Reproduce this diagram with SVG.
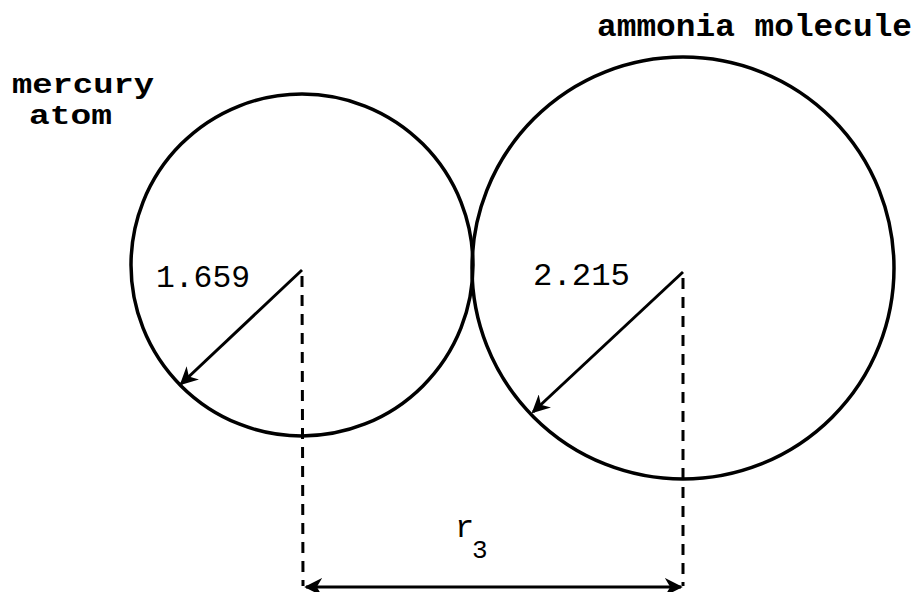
<svg xmlns="http://www.w3.org/2000/svg" width="914" height="592" viewBox="0 0 914 592">
<style>
.c{fill:none;stroke:#000;stroke-width:3.5}
.a{fill:none;stroke:#000;stroke-width:3}
.d{fill:none;stroke:#000;stroke-width:3;stroke-dasharray:11 8}
text{font-family:"Liberation Mono","Courier New",monospace;font-size:32px;fill:#000}
.b{font-weight:bold}
.s{font-size:27px}
</style>
<defs>
<marker id="ah" viewBox="0 0 10 10" refX="9" refY="5" markerWidth="6" markerHeight="6" markerUnits="strokeWidth" orient="auto-start-reverse">
<path d="M0,0 L10,5 L0,10 L3,5 Z" fill="#000"/>
</marker>
</defs>
<rect width="914" height="592" fill="#fff"/>
<g id="mercury">
<circle class="c" cx="302" cy="265" r="171"/>
<text class="b s" x="12" y="93" textLength="142" lengthAdjust="spacingAndGlyphs">mercury</text>
<text class="b s" x="29" y="124" textLength="83" lengthAdjust="spacingAndGlyphs">atom</text>
<text x="156" y="287" textLength="94" lengthAdjust="spacingAndGlyphs">1.659</text>
</g>
<g id="ammonia">
<circle class="c" cx="683" cy="268" r="211"/>
<text class="b" x="597" y="36" textLength="315" lengthAdjust="spacingAndGlyphs">ammonia molecule</text>
<text x="533" y="285" textLength="97" lengthAdjust="spacingAndGlyphs">2.215</text>
</g>
<g id="connectors">
<line class="a" x1="302" y1="270" x2="181" y2="384" marker-end="url(#ah)"/>
<line class="a" x1="683" y1="272" x2="533" y2="412" marker-end="url(#ah)"/>
<line class="d" x1="302" y1="276" x2="303" y2="586"/>
<line class="d" x1="683" y1="278" x2="683" y2="586"/>
<line class="a" x1="306" y1="587" x2="681" y2="587" marker-start="url(#ah)" marker-end="url(#ah)"/>
</g>
<g id="r3">
<text x="455" y="537">r<tspan x="472" y="558" font-size="26">3</tspan></text>
</g>
</svg>
